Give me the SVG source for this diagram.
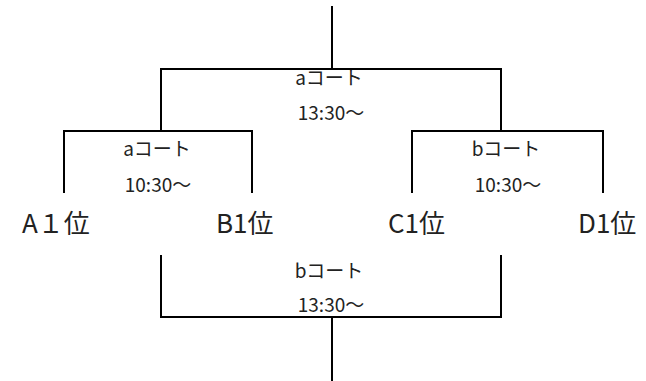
<svg xmlns="http://www.w3.org/2000/svg" width="646" height="381" viewBox="0 0 646 381">
<style>
.ln{stroke:#000;stroke-width:2;fill:none}
.s{font-family:"Noto Sans CJK JP","Noto Sans",sans-serif;font-size:19px;fill:#222;text-anchor:middle}
.l{font-family:"Noto Sans CJK JP","Noto Sans",sans-serif;font-size:26px;fill:#222}
</style>
<rect width="646" height="381" fill="#fff"/>
<g id="connectors">
<path class="ln" d="M332 6V69M161 131V69H501V131"/>
<path class="ln" d="M64 193V131H252V193"/>
<path class="ln" d="M412 193V131H603V193"/>
<path class="ln" d="M161 255V317H501V255M332 317V381"/>
</g>
<g id="final-a"><text class="s" x="329" y="85">aコート</text><text class="s" x="331" y="120">13:30～</text></g>
<g id="semi-a"><text class="s" x="157" y="156">aコート</text><text class="s" x="158" y="192">10:30～</text></g>
<g id="semi-b"><text class="s" x="506" y="156">bコート</text><text class="s" x="508" y="192">10:30～</text></g>
<g id="final-b"><text class="s" x="329" y="278">bコート</text><text class="s" x="331" y="312">13:30～</text></g>
<g id="A1"><text class="l" x="22" y="233">A１位</text></g>
<g id="B1"><text class="l" x="216" y="233">B1位</text></g>
<g id="C1"><text class="l" x="388" y="233">C1位</text></g>
<g id="D1"><text class="l" x="578" y="233">D1位</text></g>
</svg>
